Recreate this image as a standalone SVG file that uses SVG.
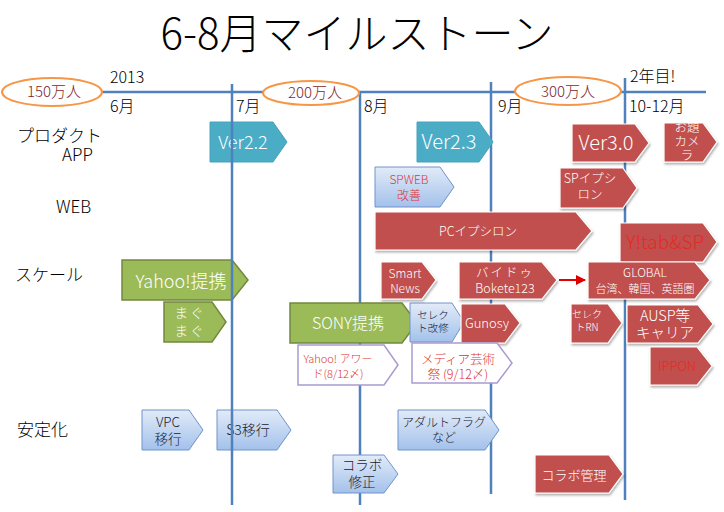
<svg xmlns="http://www.w3.org/2000/svg" width="724" height="512" viewBox="0 0 724 512">
<style>
text{font-family:"Noto Sans CJK JP","Noto Sans",sans-serif;font-weight:300}
.tl{stroke:#4f81bd;stroke-width:2.5;fill:none}
.ell{fill:#fff;stroke:#f79646;stroke-width:2}
.et{font-size:15px;fill:#7f1f1f;text-anchor:middle}
.hd{font-size:16px;fill:#000}
.lb{font-size:17px;fill:#000}
.teal{fill:#4bacc6;stroke:#46a2bb;stroke-width:1}
.red{fill:#c0504d;stroke:#fff;stroke-width:1.2;filter:url(#sh)}
.green{fill:#9bbb59;stroke:#71893f;stroke-width:1.5}
.blue{fill:url(#bg);stroke:#6e93cb;stroke-width:1}
.wht{fill:#fff;stroke:#a99bd0;stroke-width:1.5}
.w{fill:#fff;text-anchor:middle}
.k{fill:#1a1a2e;text-anchor:middle}
.r{fill:#e03434;text-anchor:middle}
</style>
<defs>
<linearGradient id="bg" x1="0" y1="0" x2="0" y2="1">
<stop offset="0" stop-color="#e2ebf8"/>
<stop offset="1" stop-color="#a3c1eb"/>
</linearGradient>
<filter id="sh" x="-10%" y="-10%" width="130%" height="140%">
<feDropShadow dx="1" dy="2" stdDeviation="1.2" flood-color="#000" flood-opacity="0.3"/>
</filter>
<marker id="ah" viewBox="0 0 10 10" refX="9" refY="5" markerWidth="5" markerHeight="5" orient="auto">
<path d="M0,0 L10,5 L0,10 z" fill="#e00000"/>
</marker>
<clipPath id="cam"><polygon points="664,123 703,123 717,142 703,162 664,162"/></clipPath>
</defs>

<text x="357" y="49" font-size="42" text-anchor="middle" fill="#000">6-8月マイルストーン</text>

<g id="timeline">
<line class="tl" x1="100" y1="92" x2="706" y2="92" stroke-width="3"/>
<line class="tl" x1="360" y1="92" x2="360" y2="505"/>
<line class="tl" x1="491" y1="82" x2="491" y2="494"/>
<line class="tl" x1="625" y1="78" x2="625" y2="500"/>
</g>

<g id="milestones">
<ellipse class="ell" cx="52" cy="92" rx="50" ry="14"/>
<text class="et" x="54" y="97">150万人</text>
<ellipse class="ell" cx="311" cy="93" rx="48" ry="12"/>
<text class="et" x="315" y="98">200万人</text>
<ellipse class="ell" cx="568" cy="91" rx="53" ry="14"/>
<text class="et" x="568" y="97">300万人</text>
</g>

<g id="headers">
<text class="hd" x="110" y="83">2013</text>
<text class="hd" x="110" y="112">6月</text>
<text class="hd" x="236" y="112">7月</text>
<text class="hd" x="364" y="112">8月</text>
<text class="hd" x="498" y="112">9月</text>
<text class="hd" x="630" y="82">2年目!</text>
<text class="hd" x="629" y="112">10-12月</text>
</g>

<g id="rows">
<text class="lb" x="17" y="142" font-size="16.5">プロダクト</text>
<text class="lb" x="62" y="161" font-size="16">APP</text>
<text class="lb" x="56" y="213" font-size="16">WEB</text>
<text class="lb" x="15" y="281">スケール</text>
<text class="lb" x="17" y="436">安定化</text>
</g>

<g id="ver22"><polygon class="teal" points="210,122 273,122 287,142 273,162 210,162"/><text class="w" x="243" y="149" font-size="18">Ver2.2</text></g>
<g id="ver23"><polygon class="teal" points="417,122 479,122 493,142 479,162 417,162"/><text class="w" x="449" y="149" font-size="20">Ver2.3</text></g>
<g id="ver30"><polygon class="red" points="572,124 635,124 649,143 635,162 572,162"/><text class="w" x="606" y="150" font-size="20">Ver3.0</text></g>
<g id="odai"><polygon class="red" points="664,123 703,123 717,142 703,162 664,162"/>
<g clip-path="url(#cam)" font-size="12.5"><text class="w" x="687" y="132">お題</text><text class="w" x="687" y="146">カメ</text><text class="w" x="687" y="160">ラ</text></g></g>

<g id="spweb"><polygon class="blue" points="375,167 440,167 454,187 440,207 375,207"/><text class="r" x="409" y="184" font-size="12">SPWEB</text><text class="r" x="409" y="200" font-size="12">改善</text></g>
<g id="spepsilon"><polygon class="red" points="560,168 623,168 637,188 623,208 560,208"/><text class="w" x="590" y="183" font-size="12.5">SPイプシ</text><text class="w" x="590" y="199" font-size="12.5">ロン</text></g>
<g id="pcepsilon"><polygon class="red" points="375,212 576,212 592,231 576,250 375,250"/><text class="w" x="478" y="236" font-size="12.5">PCイプシロン</text></g>
<g id="ytab"><polygon class="red" points="620,223 703,223 717,242 703,262 620,262"/><text x="665" y="249" font-size="19" fill="#e42a26" text-anchor="middle">Y!tab&amp;SP</text></g>

<g id="yahoo"><polygon class="green" points="122,260 232,260 248,280 232,300 122,300"/><text class="w" x="181" y="288" font-size="18">Yahoo!提携</text></g>
<g id="magmag"><polygon class="green" points="164,302 212,302 226,322 212,342 164,342"/><text class="w" x="190" y="318" font-size="13.5" letter-spacing="2">まぐ</text><text class="w" x="190" y="336" font-size="13.5" letter-spacing="2">まぐ</text></g>
<g id="sony"><polygon class="green" points="290,303 402,303 417,323 402,343 290,343"/><text class="w" x="348" y="329" font-size="16">SONY提携</text></g>
<g id="select1"><polygon class="blue" points="410,303 452,303 464,322 452,342 410,342"/><text class="k" x="433" y="319" font-size="10.5">セレク</text><text class="k" x="433" y="332" font-size="10.5">ト改修</text></g>
<g id="gunosy"><polygon class="red" points="461,304 505,304 520,323 505,343 461,343"/><text class="w" x="487" y="328" font-size="13">Gunosy</text></g>
<g id="yahooaward"><polygon class="wht" points="298,345 384,345 398,365 384,385 298,385"/><text class="r" x="338" y="363" font-size="11">Yahoo! アワー</text><text class="r" x="338" y="378" font-size="11">ド(8/12〆)</text></g>
<g id="mediaart"><polygon class="wht" points="412,343 497,343 512,363 497,383 412,383"/><text class="r" x="458" y="364" font-size="12.5">メディア芸術</text><text class="r" x="458" y="379" font-size="12.5">祭 (9/12〆)</text></g>
<g id="smartnews"><polygon class="red" points="381,262 422,262 436,280 422,299 381,299"/><text class="w" x="405" y="278" font-size="12">Smart</text><text class="w" x="405" y="293" font-size="12">News</text></g>
<g id="baidu"><polygon class="red" points="459,262 542,262 557,280 542,299 459,299"/><text class="w" x="505" y="277" font-size="12.5" letter-spacing="2">バイドゥ</text><text class="w" x="505" y="293" font-size="12.5">Bokete123</text></g>
<g id="global"><polygon class="red" points="588,262 695,262 710,280 695,299 588,299"/><text class="w" x="645" y="277" font-size="12">GLOBAL</text><text class="w" x="645" y="293" font-size="11">台湾、韓国、英語圏</text></g>
<g id="selectrn"><polygon class="red" points="571,304 608,304 622,323 608,343 571,343"/><text class="w" x="587" y="318" font-size="10">セレク</text><text class="w" x="587" y="331" font-size="10">トRN</text></g>
<g id="ausp"><polygon class="red" points="627,305 698,305 713,324 698,343 627,343"/><text class="w" x="665" y="321" font-size="14.5">AUSP等</text><text class="w" x="665" y="338" font-size="14.5">キャリア</text></g>
<g id="ippon"><polygon class="red" points="650,347 697,347 712,366 697,385 650,385"/><text x="677" y="371" font-size="13" fill="#e42a26" text-anchor="middle">IPPON</text></g>

<g id="vpc"><polygon class="blue" points="142,410 189,410 203,430 189,450 142,450"/><text class="k" x="168" y="427" font-size="13.5">VPC</text><text class="k" x="168" y="444" font-size="13.5">移行</text></g>
<g id="s3"><polygon class="blue" points="217,410 277,410 291,430 277,450 217,450"/><text class="k" x="248" y="435" font-size="14">S3移行</text></g>
<g id="collabofix"><polygon class="blue" points="333,455 384,455 398,474 384,493 333,493"/><text class="k" x="362" y="470" font-size="13.5">コラボ</text><text class="k" x="362" y="487" font-size="13.5">修正</text></g>
<g id="adultflag"><polygon class="blue" points="398,410 485,410 499,430 485,450 398,450"/><text class="k" x="444" y="427" font-size="12">アダルトフラグ</text><text class="k" x="444" y="442" font-size="12">など</text></g>
<g id="collabomgmt"><polygon class="red" points="535,455 609,455 623,474 609,493 535,493"/><text class="w" x="574" y="480" font-size="13">コラボ管理</text></g>

<g id="line-july">
<line class="tl" x1="232" y1="84" x2="232" y2="505"/>
</g>

<g id="connectors">
<line x1="559" y1="280" x2="585" y2="280" stroke="#e00000" stroke-width="2" marker-end="url(#ah)"/>
</g>
</svg>
